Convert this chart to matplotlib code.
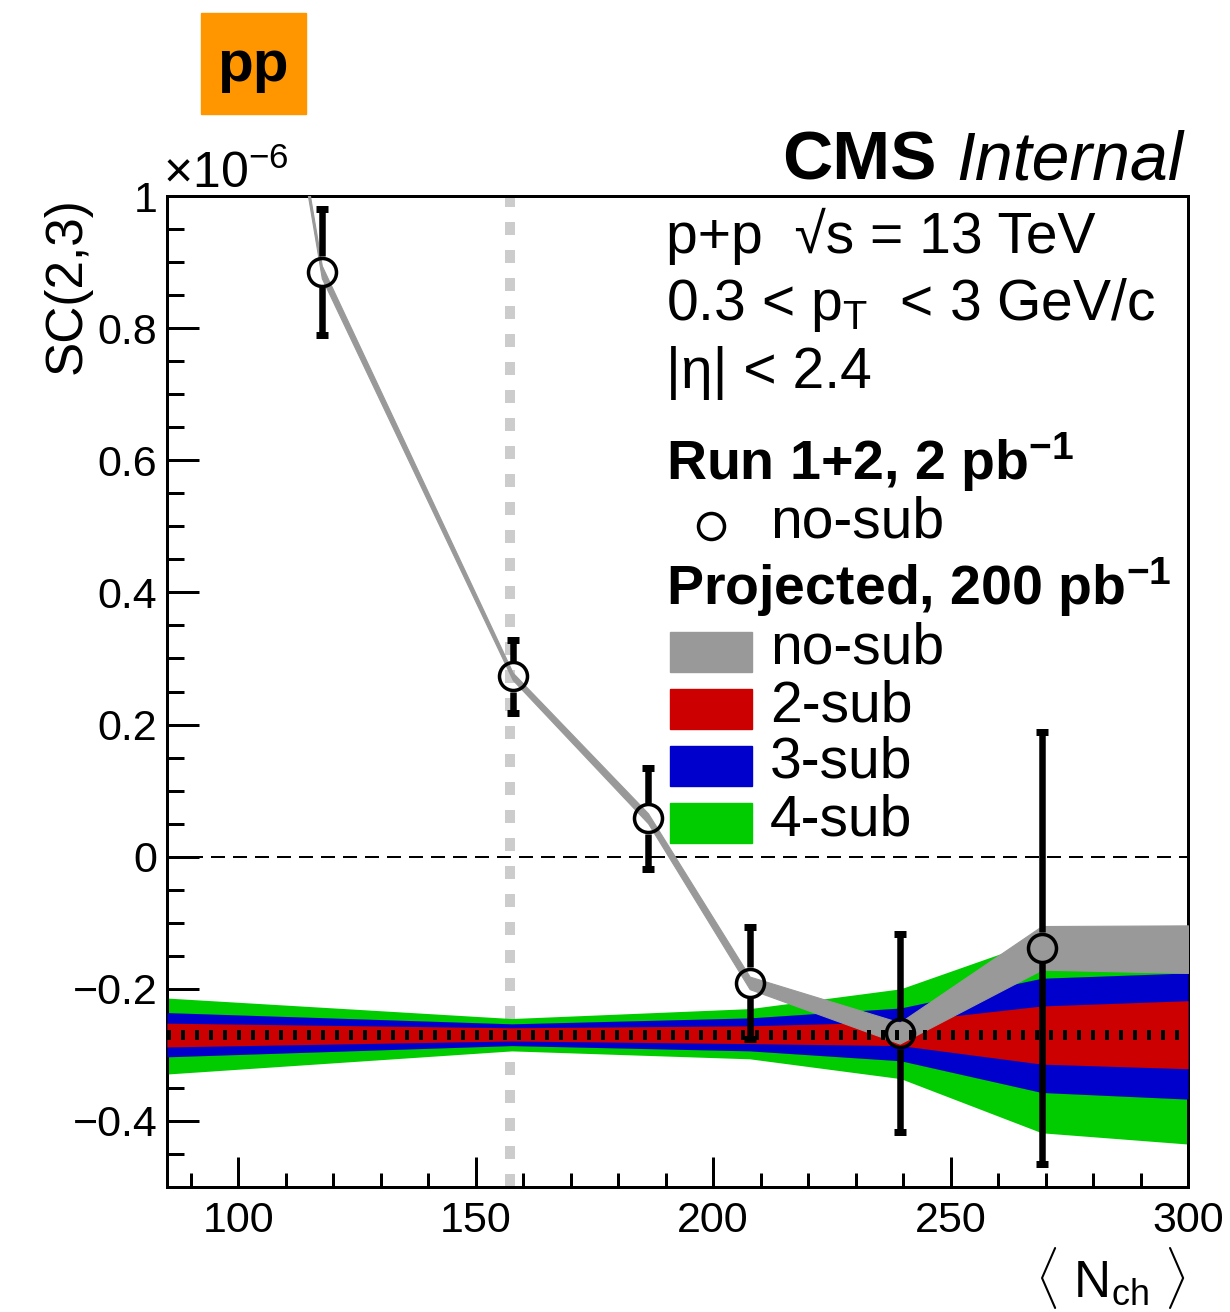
import matplotlib
matplotlib.use('Agg')
import matplotlib.pyplot as plt
from matplotlib.patches import Rectangle
from matplotlib.lines import Line2D
from matplotlib.ticker import MultipleLocator, FuncFormatter

plt.rcParams['font.family'] = ['Liberation Sans', 'DejaVu Sans']
plt.rcParams['mathtext.fontset'] = 'custom'
plt.rcParams['mathtext.rm'] = 'Liberation Sans'
plt.rcParams['mathtext.it'] = 'Liberation Sans:italic'
plt.rcParams['mathtext.bf'] = 'Liberation Sans:bold'
plt.rcParams['lines.scale_dashes'] = False

# ---------------- data (SC(2,3) in units of 1e-6) ----------------
nch = [117.6, 157.8, 186.3, 207.7, 239.3, 269.2]
sc = [0.885, 0.273, 0.058, -0.191, -0.267, -0.138]
sc_err = [0.096, 0.055, 0.076, 0.085, 0.150, 0.327]

# projected no-sub band (centre and half width)
proj_x = [100.0, 117.6, 157.8, 186.3, 207.7, 239.3, 269.2, 300.0]
proj_c = [1.635, 0.885, 0.273, 0.058, -0.191, -0.267, -0.138, -0.140]
proj_hw = [0.007, 0.0096, 0.0055, 0.0076, 0.0095, 0.016, 0.033, 0.036]

band_x = [85.0, 157.6, 207.7, 239.5, 269.2, 300.0]
green_lo = [-0.329, -0.294, -0.306, -0.336, -0.418, -0.435]
green_hi = [-0.214, -0.245, -0.230, -0.200, -0.125, -0.174]
blue_lo = [-0.303, -0.286, -0.294, -0.309, -0.357, -0.367]
blue_hi = [-0.236, -0.253, -0.244, -0.229, -0.184, -0.176]
red_lo = [-0.288, -0.279, -0.283, -0.286, -0.314, -0.321]
red_hi = [-0.252, -0.259, -0.256, -0.250, -0.226, -0.218]
ref_level = -0.27
ref_nch = 157.2

legend_labels = ['no-sub', '2-sub', '3-sub', '4-sub']
band_colors = ['#999999', '#cc0000', '#0000cc', '#00cc00']

# ---------------- figure ----------------
W, H = 1230, 1312
DPI = 100
PT = 72.0 / DPI
fig = plt.figure(figsize=(W / DPI, H / DPI), dpi=DPI)


def fx(x):
    return x / W


def fy(y):
    return 1 - y / H


ax = fig.add_axes([fx(167), fy(1187), (1188 - 167) / W, (1187 - 196) / H])
ax.set_xlim(85, 300)
ax.set_ylim(-0.5, 1.0)

# reference lines
ax.axvline(ref_nch, color='#cccccc', lw=10 * PT, dashes=(13 * PT, 15 * PT), zorder=1)
ax.axhline(0, color='black', lw=2 * PT, dashes=(14 * PT, 8 * PT), zorder=1)

# bands
ax.fill_between(band_x, green_lo, green_hi, color=band_colors[3], lw=0, zorder=2)
ax.fill_between(band_x, blue_lo, blue_hi, color=band_colors[2], lw=0, zorder=3)
ax.fill_between(band_x, red_lo, red_hi, color=band_colors[1], lw=0, zorder=4)
lo = [c - h for c, h in zip(proj_c, proj_hw)]
hi = [c + h for c, h in zip(proj_c, proj_hw)]
ax.fill_between(proj_x, lo, hi, color=band_colors[0], lw=0.8, edgecolor=band_colors[0], zorder=5)

ax.plot([85, 300], [ref_level, ref_level], color='black', lw=10 * PT,
        dashes=(4 * PT, 10 * PT), solid_capstyle='butt', dash_capstyle='butt', zorder=6)

# error bars (outside the marker), caps, markers
p0 = ax.transData.transform((0, 0))
p1 = ax.transData.transform((0, 1))
ppd = p1[1] - p0[1]
gap = 15.5 / ppd
for x, y, e in zip(nch, sc, sc_err):
    if e > gap:
        ax.plot([x, x], [y + gap, y + e], color='black', lw=6.5 * PT, solid_capstyle='butt', zorder=7)
        ax.plot([x, x], [y - e, y - gap], color='black', lw=6.5 * PT, solid_capstyle='butt', zorder=7)
    ax.plot([x, x], [y - e, y + e], ls='none', marker='_', ms=12 * PT, mew=7 * PT,
            color='black', zorder=7)
ax.plot(nch, sc, ls='none', marker='o', ms=28 * PT, mew=3.5 * PT, mfc='none',
        mec='black', zorder=8)

# axes styling
for s in ax.spines.values():
    s.set_linewidth(3 * PT)
ax.xaxis.set_major_locator(MultipleLocator(50))
ax.xaxis.set_minor_locator(MultipleLocator(10))
ax.yaxis.set_major_locator(MultipleLocator(0.2))
ax.yaxis.set_minor_locator(MultipleLocator(0.05))


def yfmt(v, pos):
    if abs(v) < 1e-9:
        return '0'
    if abs(v - 1) < 1e-9:
        return '1'
    s = f'{abs(v):.1f}'
    return ('\u2212' + s) if v < 0 else s


ax.yaxis.set_major_formatter(FuncFormatter(yfmt))
ax.xaxis.set_major_formatter(FuncFormatter(lambda v, p: f'{v:.0f}'))
ax.tick_params(axis='x', which='major', direction='in', length=30 * PT, width=3 * PT,
               labelsize=31, pad=10, top=False)
ax.tick_params(axis='x', which='minor', direction='in', length=14 * PT, width=3 * PT, top=False)
ax.tick_params(axis='y', which='major', direction='in', length=32 * PT, width=3 * PT,
               labelsize=31, pad=7, right=False)
ax.tick_params(axis='y', which='minor', direction='in', length=17 * PT, width=3 * PT, right=False)

# axis titles
fig.text(fx(67), fy(197), 'SC(2,3)', rotation=90, ha='center', va='top', fontsize=37)
fig.text(fx(163), fy(188), r'$\times$10$^{-6}$', ha='left', va='baseline', fontsize=36)
fig.text(fx(1186), fy(1278), r'$\langle$ N$_{\rm ch}$ $\rangle$', ha='right', va='center', fontsize=37)

# CMS label
fig.text(fx(1183), fy(180), 'Internal', ha='right', va='baseline', fontsize=49, style='italic')
fig.text(fx(937), fy(180), 'CMS', ha='right', va='baseline', fontsize=50, weight='bold')

# pp box
fig.patches.append(Rectangle((fx(201), fy(114)), (306 - 201) / W, (114 - 13) / H,
                             transform=fig.transFigure, color='#ff9600', zorder=0))
fig.text(fx(253), fy(66), 'pp', ha='center', va='center', fontsize=42, weight='bold')

# header text
fig.text(fx(666), fy(253), 'p+p  \u221as = 13 TeV', ha='left', va='baseline', fontsize=41)
fig.text(fx(666), fy(320), r'0.3 < p$_{\rm T}$  < 3 GeV/c', ha='left', va='baseline', fontsize=41)
fig.text(fx(666), fy(388), '|\u03b7| < 2.4', ha='left', va='baseline', fontsize=41)

# legend
fig.text(fx(666), fy(480), r'Run 1+2, 2 pb$^{\mathbf{-1}}$', ha='left', va='baseline',
         fontsize=40, weight='bold')
fig.lines.append(Line2D([fx(711)], [fy(526)], transform=fig.transFigure, ls='none', marker='o',
                        ms=26 * PT, mew=3.5 * PT, mfc='none', mec='black'))
fig.text(fx(770), fy(537), 'no-sub', ha='left', va='baseline', fontsize=41)
fig.text(fx(666), fy(605), r'Projected, 200 pb$^{\mathbf{-1}}$', ha='left', va='baseline',
         fontsize=40, weight='bold')
rect_tops = [632, 689, 746, 803]
for top, col, lab in zip(rect_tops, band_colors, legend_labels):
    fig.patches.append(Rectangle((fx(670), fy(top + 40)), (752 - 670) / W, 40 / H,
                                 transform=fig.transFigure, color=col))
    fig.text(fx(770), fy(top + 32), lab, ha='left', va='baseline', fontsize=41)

fig.savefig('out.png', dpi=DPI)
